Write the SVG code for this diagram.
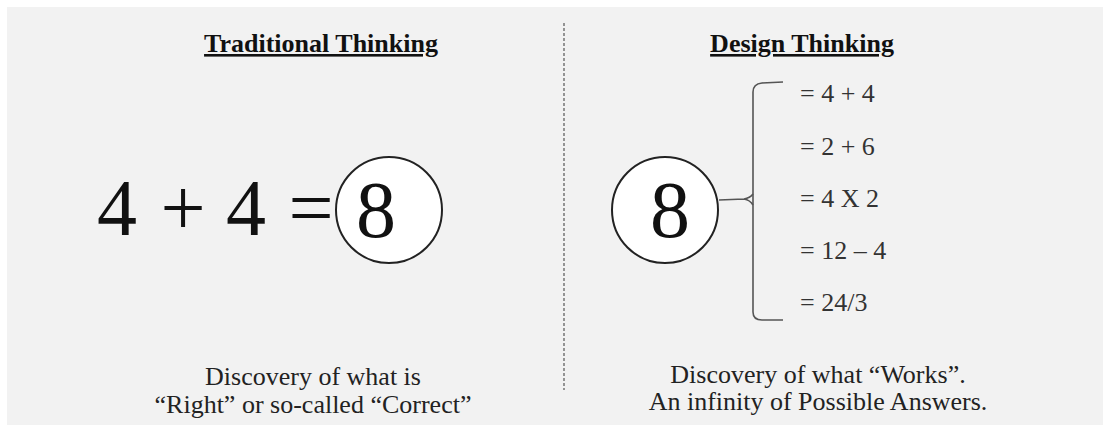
<svg xmlns="http://www.w3.org/2000/svg" width="1103" height="425" viewBox="0 0 1103 425">
<style>
.serif{font-family:"Liberation Serif","Times New Roman",serif;}
.head{font-size:26px;font-weight:bold;fill:#111;text-anchor:middle;text-decoration:underline;}
.big{font-size:80px;fill:#111;text-anchor:middle;}
.eq{font-size:26px;fill:#333;}
.cap{font-size:26px;fill:#222;text-anchor:middle;}
.circ{fill:#fff;stroke:#222;stroke-width:2;}
.br{fill:none;stroke:#555;stroke-width:1.6;}
</style>
<rect x="0" y="0" width="1103" height="425" fill="#fff"/>
<rect x="7" y="7" width="1096" height="418" fill="#f2f2f2"/>
<g id="divider">
<line x1="564" y1="23" x2="564" y2="390" stroke="#555" stroke-width="1.2" stroke-dasharray="3,2"/>
</g>
<g id="traditional">
<text class="serif head" x="321" y="52">Traditional Thinking</text>
<text class="serif big" x="117" y="235">4</text>
<text class="serif big" x="183" y="235">+</text>
<text class="serif big" x="246" y="235">4</text>
<text class="serif big" x="311" y="235">=</text>
<circle class="circ" cx="389" cy="210" r="53"/>
<text class="serif big" x="376" y="237">8</text>
<text class="serif cap" x="313" y="385">Discovery of what is</text>
<text class="serif cap" x="313" y="413">“Right” or so-called “Correct”</text>
</g>
<g id="design">
<text class="serif head" x="802" y="52">Design Thinking</text>
<circle class="circ" cx="665" cy="210" r="53"/>
<text class="serif big" x="670" y="237">8</text>
<text class="serif eq" x="800" y="102">= 4 + 4</text>
<text class="serif eq" x="800" y="155">= 2 + 6</text>
<text class="serif eq" x="800" y="207">= 4 X 2</text>
<text class="serif eq" x="800" y="259">= 12 – 4</text>
<text class="serif eq" x="800" y="311">= 24/3</text>
<text class="serif cap" x="818" y="383">Discovery of what “Works”.</text>
<text class="serif cap" x="818" y="410">An infinity of Possible Answers.</text>
</g>
<g id="connectors">
<path class="br" d="M783,82 L762,83 Q753,84 753,92 L753,312 Q753,320 762,320 L783,320"/>
<path class="br" d="M719,200 L744,199 Q750,198 753,194 M744,199 Q750,200 753,205"/>
</g>
</svg>
